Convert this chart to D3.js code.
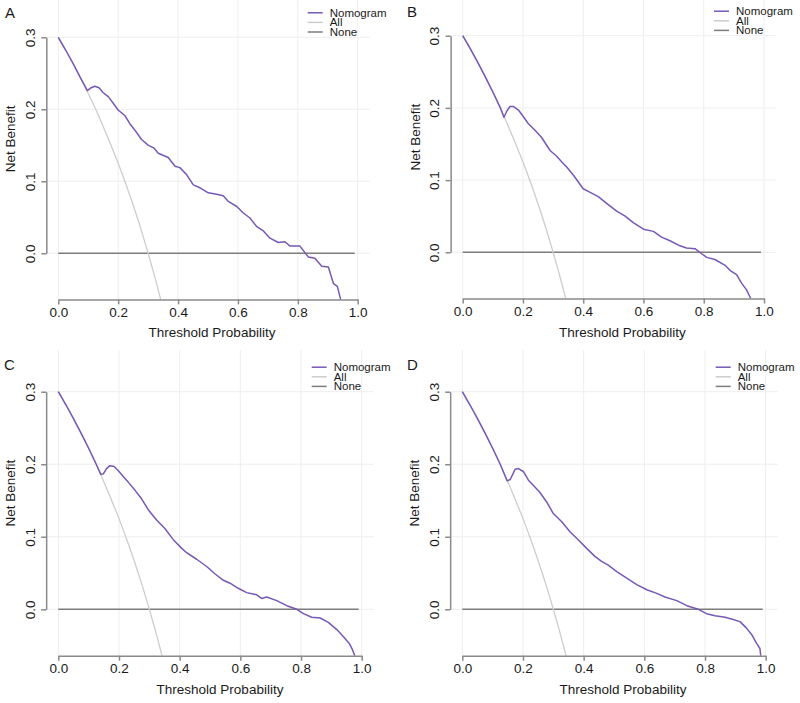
<!DOCTYPE html>
<html>
<head>
<meta charset="utf-8">
<script src="https://cdn.jsdelivr.net/npm/d3@7"></script>
<style>
  html, body { margin: 0; padding: 0; background: #fff; }
  svg { display: block; font-family: "Liberation Sans", Arial, sans-serif; }
</style>
</head>
<body>
<svg id="chart" width="800" height="703"></svg>
<script>
// ---------------- data ----------------
const panelLetters = ["A", "B", "C", "D"];
const seriesNames = ["Nomogram", "All", "None"];
const xTicks = [0, 0.2, 0.4, 0.6, 0.8, 1.0];
const yTicks = [0, 0.1, 0.2, 0.3];

// "Treat all" curve (same in every panel)
const allX = [0, 0.025, 0.05, 0.075, 0.1, 0.125, 0.15, 0.175, 0.2, 0.225, 0.25, 0.275, 0.3, 0.325, 0.35];
const allY = [0.3, 0.282, 0.263, 0.243, 0.222, 0.2, 0.176, 0.151, 0.125, 0.097, 0.067, 0.035, 0.0, -0.037, -0.077];

// "Treat none"
const noneX = [0, 0.99];
const noneY = [0, 0];

// Nomogram curves
const nomoA_x = [0, 0.025, 0.05, 0.075, 0.097, 0.11, 0.122, 0.136, 0.15, 0.167, 0.184, 0.2, 0.223, 0.239, 0.256, 0.278, 0.301, 0.32, 0.334, 0.367, 0.39, 0.406, 0.429, 0.451, 0.473, 0.501, 0.529, 0.551, 0.568, 0.596, 0.618, 0.64, 0.663, 0.685, 0.707, 0.735, 0.757, 0.774, 0.807, 0.835, 0.857, 0.88, 0.902, 0.919, 0.932, 0.943, 0.95];
const nomoA_y = [0.3, 0.282, 0.263, 0.243, 0.226, 0.230, 0.232, 0.230, 0.223, 0.2176, 0.208, 0.199, 0.191, 0.18, 0.171, 0.158, 0.150, 0.146, 0.139, 0.133, 0.121, 0.119, 0.109, 0.095, 0.091, 0.084, 0.082, 0.080, 0.072, 0.065, 0.056, 0.049, 0.037, 0.031, 0.021, 0.015, 0.016, 0.010, 0.010, -0.005, -0.007, -0.018, -0.019, -0.042, -0.046, -0.064, -0.08];

const nomoB_x = [0, 0.025, 0.05, 0.075, 0.1, 0.125, 0.137, 0.147, 0.157, 0.168, 0.185, 0.201, 0.218, 0.24, 0.262, 0.29, 0.312, 0.329, 0.345, 0.367, 0.4, 0.423, 0.45, 0.483, 0.511, 0.539, 0.566, 0.6, 0.633, 0.66, 0.688, 0.721, 0.743, 0.771, 0.793, 0.81, 0.837, 0.871, 0.887, 0.909, 0.926, 0.942, 0.956, 0.965];
const nomoB_y = [0.3, 0.282, 0.263, 0.243, 0.222, 0.2, 0.187, 0.196, 0.202, 0.202, 0.197, 0.188, 0.178, 0.169, 0.159, 0.141, 0.133, 0.125, 0.118, 0.107, 0.088, 0.083, 0.077, 0.066, 0.057, 0.050, 0.041, 0.032, 0.029, 0.021, 0.016, 0.009, 0.006, 0.005, -0.002, -0.007, -0.010, -0.018, -0.025, -0.031, -0.043, -0.052, -0.064, -0.08];

const nomoC_x = [0, 0.025, 0.05, 0.075, 0.1, 0.125, 0.14, 0.149, 0.159, 0.17, 0.184, 0.198, 0.214, 0.231, 0.253, 0.275, 0.297, 0.324, 0.352, 0.379, 0.407, 0.423, 0.456, 0.489, 0.516, 0.544, 0.566, 0.593, 0.621, 0.654, 0.67, 0.687, 0.72, 0.753, 0.786, 0.808, 0.835, 0.863, 0.89, 0.918, 0.94, 0.959, 0.97, 0.978, 0.982];
const nomoC_y = [0.3, 0.282, 0.263, 0.243, 0.222, 0.2, 0.186, 0.187, 0.194, 0.198, 0.197, 0.191, 0.183, 0.175, 0.164, 0.152, 0.137, 0.123, 0.111, 0.096, 0.084, 0.078, 0.069, 0.059, 0.049, 0.040, 0.036, 0.029, 0.023, 0.020, 0.015, 0.017, 0.012, 0.005, 0.000, -0.006, -0.011, -0.012, -0.018, -0.028, -0.038, -0.047, -0.056, -0.065, -0.08];

const nomoD_x = [0, 0.025, 0.05, 0.075, 0.1, 0.125, 0.148, 0.158, 0.174, 0.185, 0.201, 0.218, 0.234, 0.256, 0.278, 0.3, 0.327, 0.355, 0.382, 0.41, 0.437, 0.459, 0.481, 0.509, 0.542, 0.575, 0.608, 0.641, 0.668, 0.707, 0.74, 0.778, 0.805, 0.833, 0.866, 0.893, 0.915, 0.937, 0.954, 0.97, 0.981, 0.984, 0.985];
const nomoD_y = [0.3, 0.282, 0.263, 0.243, 0.222, 0.2, 0.177, 0.179, 0.193, 0.194, 0.190, 0.178, 0.171, 0.161, 0.148, 0.132, 0.121, 0.107, 0.096, 0.084, 0.073, 0.066, 0.061, 0.052, 0.043, 0.034, 0.027, 0.022, 0.017, 0.012, 0.005, 0.000, -0.006, -0.009, -0.011, -0.014, -0.017, -0.026, -0.035, -0.047, -0.054, -0.065, -0.08];

const nomoXs = [nomoA_x, nomoB_x, nomoC_x, nomoD_x];
const nomoYs = [nomoA_y, nomoB_y, nomoC_y, nomoD_y];

// ---------------- layout (pixel geometry per panel) ----------------
const layout = [
  { x0: 58.3, x1: 357.7, y03: 37.3, y0: 253.3, top: 0,   letterX: 5,   letterY: 18,  titleDx: 4 },
  { x0: 462.7, x1: 764.0, y03: 35.7, y0: 252.3, top: 0,   letterX: 407, letterY: 17,  titleDx: 9 },
  { x0: 58.3, x1: 361.7, y03: 391.7, y0: 609.3, top: 350, letterX: 4,   letterY: 370, titleDx: 10 },
  { x0: 462.3, x1: 765.7, y03: 391.7, y0: 609.3, top: 350, letterX: 407, letterY: 370, titleDx: 9 }
];

const colors = { Nomogram: "#7659b6", All: "#cdcdcd", None: "#7d7d7d" };
const axisColor = "#8a8a8a";
const gridColor = "#eeeeee";
const textColor = "#1a1a1a";
const yMin = -0.064, yMaxUsr = 0.314, xMinUsr = -0.04, xMaxUsr = 1.04;

const svg = d3.select("#chart");

layout.forEach((L, i) => {
  const xs = d3.scaleLinear().domain([0, 1]).range([L.x0, L.x1]);
  const ys = d3.scaleLinear().domain([0, 0.3]).range([L.y0, L.y03]);
  const g = svg.append("g");

  const clipId = "clip" + i;
  g.append("clipPath").attr("id", clipId).append("rect")
    .attr("x", xs(xMinUsr)).attr("y", ys(yMaxUsr))
    .attr("width", xs(xMaxUsr) - xs(xMinUsr))
    .attr("height", ys(yMin) - ys(yMaxUsr));

  // grid
  g.selectAll(".vgrid").data(xTicks).join("line")
    .attr("x1", d => xs(d)).attr("x2", d => xs(d))
    .attr("y1", L.top).attr("y2", ys(yMin))
    .attr("stroke", gridColor).attr("stroke-width", 1);
  g.selectAll(".hgrid").data(yTicks).join("line")
    .attr("x1", xs(xMinUsr)).attr("x2", xs(xMaxUsr))
    .attr("y1", d => ys(d)).attr("y2", d => ys(d))
    .attr("stroke", gridColor).attr("stroke-width", 1);

  const line = d3.line().x(d => xs(d[0])).y(d => ys(d[1])).curve(d3.curveMonotoneX);
  const lines = g.append("g").attr("clip-path", `url(#${clipId})`);

  lines.append("path").datum(noneX.map((x, k) => [x, noneY[k]]))
    .attr("d", d3.line().x(d => xs(d[0])).y(d => ys(d[1])))
    .attr("fill", "none").attr("stroke", colors.None).attr("stroke-width", 1.5);
  lines.append("path").datum(allX.map((x, k) => [x, allY[k]]))
    .attr("d", line).attr("fill", "none").attr("stroke", colors.All).attr("stroke-width", 1.3);
  lines.append("path").datum(nomoXs[i].map((x, k) => [x, nomoYs[i][k]]))
    .attr("d", d3.line().x(d => xs(d[0])).y(d => ys(d[1])).curve(d3.curveLinear))
    .attr("fill", "none").attr("stroke", colors.Nomogram).attr("stroke-width", 1.5)
    .attr("stroke-linejoin", "round");

  // x axis
  const xAxisY = ys(yMin);
  const xAxis = d3.axisBottom(xs).tickValues(xTicks).tickFormat(d3.format(".1f"))
    .tickSizeInner(5).tickSizeOuter(0).tickPadding(3);
  const xg = g.append("g").attr("transform", `translate(0,${xAxisY})`).call(xAxis);
  xg.select(".domain").attr("stroke", axisColor).attr("stroke-width", 1.5);
  xg.selectAll(".tick line").attr("stroke", axisColor).attr("stroke-width", 1.5);
  xg.selectAll(".tick text").attr("fill", textColor)
    .style("font-size", "13.5px").style("font-family", "Liberation Sans, Arial, sans-serif");

  // y axis
  const yAxisX = xs(xMinUsr);
  const yAxis = d3.axisLeft(ys).tickValues(yTicks).tickFormat(d3.format(".1f"))
    .tickSizeInner(5).tickSizeOuter(0).tickPadding(3);
  const yg = g.append("g").attr("transform", `translate(${yAxisX},0)`).call(yAxis);
  yg.select(".domain").attr("stroke", axisColor).attr("stroke-width", 1.5);
  yg.selectAll(".tick line").attr("stroke", axisColor).attr("stroke-width", 1.5);
  yg.selectAll(".tick text").attr("fill", textColor)
    .style("font-size", "13.5px").style("font-family", "Liberation Sans, Arial, sans-serif")
    .attr("x", null).attr("dy", null)
    .attr("text-anchor", "middle")
    .attr("transform", "translate(-16,0) rotate(-90)")
    .attr("dy", "0.35em");

  // axis titles
  g.append("text")
    .attr("x", xs(0.5) + L.titleDx).attr("y", xAxisY + 38)
    .attr("text-anchor", "middle").attr("fill", textColor)
    .style("font-size", "13.5px")
    .text("Threshold Probability");
  g.append("text")
    .attr("transform", `translate(${yAxisX - 31},${L.y03 + 101.5}) rotate(-90)`)
    .attr("text-anchor", "middle").attr("fill", textColor)
    .style("font-size", "13.5px")
    .text("Net Benefit");

  // panel letter
  g.append("text").attr("x", L.letterX).attr("y", L.letterY)
    .attr("fill", textColor).style("font-size", "15px")
    .text(panelLetters[i]);

  // legend
  const lg = g.append("g");
  seriesNames.forEach((name, k) => {
    const yy = L.y03 - 24.5 + k * 9.6;
    lg.append("line").attr("x1", L.x1 - 50).attr("x2", L.x1 - 35)
      .attr("y1", yy).attr("y2", yy)
      .attr("stroke", colors[name]).attr("stroke-width", 1.5);
    lg.append("text").attr("x", L.x1 - 28).attr("y", yy).attr("dy", "0.35em")
      .attr("fill", textColor).style("font-size", "11.5px")
      .text(name);
  });
});
</script>
</body>
</html>
